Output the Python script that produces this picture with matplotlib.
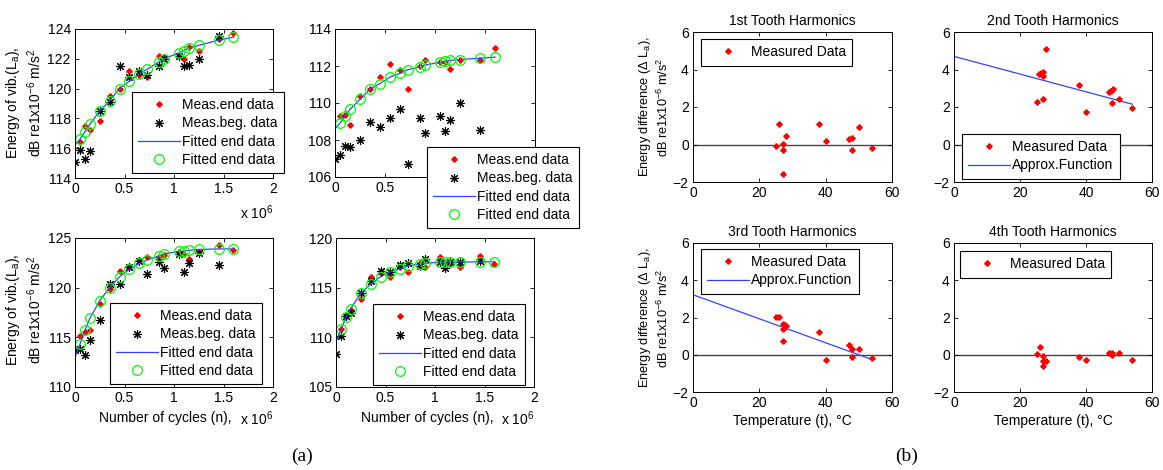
import matplotlib
matplotlib.use("Agg")
import matplotlib.pyplot as plt

plt.rcParams["font.family"] = ["Liberation Sans", "DejaVu Sans"]
plt.rcParams["mathtext.fontset"] = "custom"
plt.rcParams["mathtext.rm"] = "Liberation Sans"
plt.rcParams["mathtext.it"] = "Liberation Sans"

# ---------------- panel (a) data: cycles in units of 1e6 ----------------
x_beg = [0, 0.05, 0.1, 0.15, 0.25, 0.35, 0.45, 0.55, 0.65, 0.73, 0.85, 0.9, 1.05, 1.1, 1.15, 1.25, 1.45]
x_end = [0.05, 0.1, 0.15, 0.25, 0.35, 0.45, 0.55, 0.65, 0.73, 0.85, 0.9, 1.05, 1.1, 1.15, 1.25, 1.45, 1.6]
x_fit = [0] + x_end

# top-left
tl_end = [116.4, 117.5, 117.2, 117.8, 119.5, 120.0, 121.2, 120.9, 120.8, 122.2, 122.1, 122.2, 122.0, 122.8, 122.5, 123.3, 123.7]
tl_beg = [115.1, 115.9, 115.3, 115.8, 118.5, 119.1, 121.5, 120.8, 121.2, 120.9, 121.5, 122.0, 122.2, 121.5, 121.6, 122.0, 123.5]
tl_fit = [116.2, 116.6, 117.1, 117.6, 118.5, 119.2, 120.0, 120.5, 121.0, 121.3, 121.8, 122.0, 122.4, 122.55, 122.7, 122.9, 123.25, 123.45]

# top-right
tr_end = [109.3, 109.35, 108.8, 110.4, 110.75, 111.4, 112.1, 111.8, 110.75, 112.0, 112.35, 112.2, 112.2, 111.85, 112.35, 112.3, 113.0]
tr_beg = [107.0, 107.2, 107.7, 107.6, 108.0, 108.95, 108.7, 109.2, 109.7, 106.7, 109.2, 108.4, 109.3, 108.5, 109.1, 110.0, 108.55]
tr_fit = [108.6, 108.9, 109.3, 109.65, 110.2, 110.75, 111.05, 111.4, 111.6, 111.8, 111.95, 112.05, 112.2, 112.25, 112.3, 112.35, 112.42, 112.48]

# bottom-left
bl_end = [115.1, 115.5, 115.7, 118.4, 119.9, 121.7, 122.1, 122.8, 123.1, 123.1, 123.3, 123.6, 123.4, 122.9, 123.6, 124.3, 123.75]
bl_beg = [113.7, 113.8, 113.2, 114.7, 116.7, 120.4, 120.4, 122.1, 122.7, 121.4, 122.6, 122.0, 123.4, 121.6, 122.5, 123.5, 122.3]
bl_fit = [113.0, 114.3, 115.7, 116.9, 118.7, 120.0, 121.1, 121.85, 122.45, 122.8, 123.2, 123.4, 123.65, 123.7, 123.75, 123.85, 123.9, 123.9]

# bottom-right
br_end = [110.8, 112.15, 112.75, 113.85, 116.1, 116.5, 116.1, 117.1, 116.6, 117.5, 117.1, 118.1, 117.6, 117.5, 117.1, 118.2, 117.4]
br_beg = [108.3, 110.1, 112.1, 112.4, 114.45, 115.7, 116.7, 116.6, 117.3, 117.5, 117.2, 117.9, 117.55, 117.0, 117.55, 117.55, 117.65]
br_fit = [109.55, 110.8, 112.0, 112.9, 114.45, 115.35, 116.1, 116.6, 116.9, 117.2, 117.4, 117.45, 117.55, 117.57, 117.57, 117.58, 117.6, 117.6]

# ---------------- panel (b) data: temperature, deg C ----------------
h1_t = [25, 26, 27, 27, 27, 28, 38, 40, 47, 48, 48, 50, 54]
h1_d = [-0.1, 1.1, 0.02, -0.27, -1.55, 0.46, 1.1, 0.2, 0.32, 0.37, -0.27, 0.91, -0.21]

h2_t = [25, 25.8, 26.5, 27, 27, 27, 27.8, 38, 40, 47, 47.6, 48.2, 48, 50, 54]
h2_d = [2.29, 3.77, 3.84, 3.89, 3.66, 2.41, 5.1, 3.18, 1.71, 2.82, 2.88, 2.95, 2.23, 2.41, 1.96]
h2_fit_t = [0, 54]
h2_fit_d = [4.7, 2.15]

h3_t = [25, 26, 27, 27, 27, 27.6, 28.1, 38, 40, 47, 48, 48, 50, 54]
h3_d = [2.05, 2.05, 1.67, 1.38, 0.76, 1.62, 1.53, 1.2, -0.26, 0.55, 0.31, -0.12, 0.31, -0.2]
h3_fit_t = [0, 54]
h3_fit_d = [3.22, -0.26]

h4_t = [25, 26, 27, 27, 27, 28, 38, 40, 47, 48, 48, 50, 54]
h4_d = [0.02, 0.41, -0.07, -0.34, -0.61, -0.34, -0.11, -0.29, 0.07, 0.07, -0.02, 0.07, -0.29]

W, H = 1163, 470
fig = plt.figure(figsize=(W / 100, H / 100), dpi=100)

RED = "#ff0000"
GREEN = "#00ff00"
BLUE = "#3344ff"
ASTER = (8, 2, 0)
FS = 10


def pax(l, t, r, b):
    ax = fig.add_axes([l / W, 1 - b / H, (r - l) / W, (b - t) / H])
    ax.tick_params(direction="in", top=True, right=True, labelsize=FS, length=3, width=0.6, pad=3)
    for s in ax.spines.values():
        s.set_linewidth(0.7)
    return ax


def put_legend(ax, left, top):
    leg = ax.legend(loc="upper left", bbox_to_anchor=(left / W, 1 - top / H),
                    bbox_transform=fig.transFigure, fontsize=FS, frameon=True,
                    fancybox=False, framealpha=1, edgecolor="black", borderaxespad=0,
                    handlelength=3.0, handletextpad=0.15, labelspacing=0.3,
                    borderpad=0.45)
    leg.get_frame().set_linewidth(0.8)
    leg.set_zorder(10)
    return leg


def cycles_plot(ax, y_end, y_beg, y_fit, ylim, yticks):
    ax.plot(x_end, y_end, ls="none", marker="P", ms=3.5, color=RED, mec=RED, label="Meas.end data")
    ax.plot(x_beg, y_beg, ls="none", marker=ASTER, ms=6.5, mew=0.8, color="black", label="Meas.beg. data")
    ax.plot(x_fit, y_fit, color=BLUE, lw=0.9, label="Fitted end data")
    ax.plot(x_end, y_fit[1:], ls="none", marker="o", ms=7, mfc="none", mec=GREEN, mew=0.9,
            label="Fitted end data")
    ax.set_xlim(0, 2)
    ax.set_xticks([0, 0.5, 1, 1.5, 2])
    ax.set_xticklabels(["0", "0.5", "1", "1.5", "2"])
    ax.set_ylim(*ylim)
    ax.set_yticks(yticks)


ylab_a = "Energy of vib.(L$_a$),\ndB re1x10$^{-6}$ m/s$^2$"
xlab_a = "Number of cycles (n),"

a1 = pax(75, 29, 273, 178)
cycles_plot(a1, tl_end, tl_beg, tl_fit, (114, 124), [114, 116, 118, 120, 122, 124])
put_legend(a1, 132, 92)
a1.text(1.0, -0.23, r"x 10$^6$", transform=a1.transAxes, ha="right", va="center", fontsize=FS)

a2 = pax(335, 29, 535, 177)
cycles_plot(a2, tr_end, tr_beg, tr_fit, (106, 114), [106, 108, 110, 112, 114])
# labels 1, 1.5, 2 sit under the legend box
a2.set_xticklabels(["0", "0.5", "", "", ""])
put_legend(a2, 427, 147)

a3 = pax(75, 238, 273, 387)
cycles_plot(a3, bl_end, bl_beg, bl_fit, (110, 125), [110, 115, 120, 125])
put_legend(a3, 110, 303)
a3.text(0.455, -0.21, xlab_a, transform=a3.transAxes, ha="center", va="center", fontsize=FS)
a3.text(1.0, -0.21, r"x 10$^6$", transform=a3.transAxes, ha="right", va="center", fontsize=FS)

a4 = pax(336, 238, 534, 387)
cycles_plot(a4, br_end, br_beg, br_fit, (105, 120), [105, 110, 115, 120])
put_legend(a4, 373, 304)
a4.text(0.46, -0.21, xlab_a, transform=a4.transAxes, ha="center", va="center", fontsize=FS)
a4.text(1.0, -0.21, r"x 10$^6$", transform=a4.transAxes, ha="right", va="center", fontsize=FS)

fig.text(24 / W, 1 - 103 / H, ylab_a, rotation=90, ha="center", va="center", fontsize=FS,
         multialignment="center")
fig.text(24 / W, 1 - 310 / H, ylab_a, rotation=90, ha="center", va="center", fontsize=FS,
         multialignment="center")


# ---------------- panel (b) ----------------
def temp_plot(ax, t, d, title, fit_t=None, fit_d=None):
    ax.axhline(0, color="#444444", lw=1.0, zorder=1)
    ax.plot(t, d, ls="none", marker="P", ms=3.5, color=RED, mec=RED, label="Measured Data", zorder=3)
    if fit_t is not None:
        ax.plot(fit_t, fit_d, color=BLUE, lw=0.9, label="Approx.Function", zorder=2)
    ax.set_xlim(0, 60)
    ax.set_xticks([0, 20, 40, 60])
    ax.set_ylim(-2, 6)
    ax.set_yticks([-2, 0, 2, 4, 6])
    ax.set_title(title, fontsize=FS, pad=5)


ylab_b = "Energy difference ($\\Delta$ L$_a$),\ndB re1x10$^{-6}$ m/s$^2$"
xlab_b = "Temperature (t), \u00b0C"

b1 = pax(693, 32, 892, 182)
temp_plot(b1, h1_t, h1_d, "1st Tooth Harmonics")
put_legend(b1, 701, 39)

b2 = pax(954, 32, 1152, 182)
temp_plot(b2, h2_t, h2_d, "2nd Tooth Harmonics", h2_fit_t, h2_fit_d)
put_legend(b2, 962, 134)

b3 = pax(693, 243, 892, 392)
temp_plot(b3, h3_t, h3_d, "3rd Tooth Harmonics", h3_fit_t, h3_fit_d)
put_legend(b3, 701, 249)
b3.set_xlabel(xlab_b, fontsize=FS, labelpad=3)

b4 = pax(954, 243, 1152, 392)
temp_plot(b4, h4_t, h4_d, "4th Tooth Harmonics")
put_legend(b4, 960, 251)
b4.set_xlabel(xlab_b, fontsize=FS, labelpad=3)

fig.text(654 / W, 1 - 107 / H, ylab_b, rotation=90, ha="center", va="center", fontsize=9.2,
         multialignment="center")
fig.text(654 / W, 1 - 318 / H, ylab_b, rotation=90, ha="center", va="center", fontsize=9.2,
         multialignment="center")

fig.text(302 / W, 1 - 456 / H, "(a)", ha="center", va="center", fontsize=14, family="Liberation Serif")
fig.text(907 / W, 1 - 456 / H, "(b)", ha="center", va="center", fontsize=14, family="Liberation Serif")

fig.savefig("out.png", dpi=100)
